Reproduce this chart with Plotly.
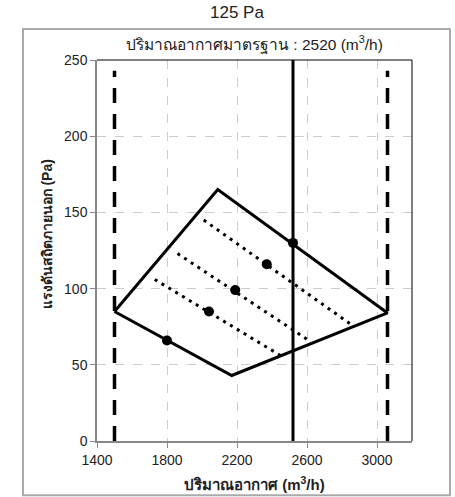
import plotly.graph_objects as go

# Operating envelope (airflow m3/h, external static pressure Pa)
envelope_x = [1500, 2090, 3060, 2170, 1500]
envelope_y = [85, 165, 84, 43, 85]

# Operating points
point_x = [1800, 2040, 2190, 2370, 2520]
point_y = [66, 85, 99, 116, 130]

# Dotted fan curves: (x start, x end), (y start, y end)
curve_x = [[1730, 2450], [1860, 2610], [2010, 2845]]
curve_y = [[106, 56], [123, 66], [145, 77]]

# Airflow limits and rated airflow
limit_x = [1500, 3060]
rated_x = 2520

x_ticks = [1400, 1800, 2200, 2600, 3000]
y_ticks = [0, 50, 100, 150, 200, 250]

FONT = "Liberation Sans, Arial, Noto Sans, sans-serif"

fig = go.Figure()

for lx in limit_x:
    fig.add_trace(go.Scatter(x=[lx, lx], y=[0, 243], mode="lines",
                             line=dict(color="black", width=3.5, dash="15px,11px"),
                             hoverinfo="skip", showlegend=False))

fig.add_trace(go.Scatter(x=[rated_x, rated_x], y=[0, 250], mode="lines",
                         line=dict(color="black", width=3),
                         hoverinfo="skip", showlegend=False))

for cx, cy in zip(curve_x, curve_y):
    fig.add_trace(go.Scatter(x=cx, y=cy, mode="lines",
                             line=dict(color="black", width=3, dash="3px,5px"),
                             hoverinfo="skip", showlegend=False))

fig.add_trace(go.Scatter(x=envelope_x, y=envelope_y, mode="lines",
                         line=dict(color="black", width=3),
                         hoverinfo="skip", showlegend=False))

fig.add_trace(go.Scatter(x=point_x, y=point_y, mode="markers",
                         marker=dict(color="black", size=10),
                         hoverinfo="skip", showlegend=False))

fig.update_xaxes(range=[1400, 3200], tickvals=x_ticks, showgrid=True,
                 gridcolor="#cccccc", griddash="dash", gridwidth=1,
                 zeroline=False, showline=True, linecolor="#888888", linewidth=1.5,
                 ticks="outside", ticklen=5, tickcolor="#888888",
                 tickfont=dict(family=FONT, size=14, color="#222222"))
fig.update_yaxes(range=[0, 250], tickvals=y_ticks, showgrid=True,
                 gridcolor="#cccccc", griddash="dash", gridwidth=1,
                 zeroline=False, showline=True, linecolor="#888888", linewidth=1.5,
                 ticks="outside", ticklen=5, tickcolor="#888888",
                 tickfont=dict(family=FONT, size=14, color="#222222"))

shapes = [
    # outer frame
    dict(type="rect", xref="paper", yref="paper",
         x0=(23 - 97) / 315, x1=(450 - 97) / 315,
         y0=(441 - 495) / 380, y1=(441 - 30) / 380,
         line=dict(color="#aaaaaa", width=2), fillcolor="rgba(0,0,0,0)", layer="below"),
    # top and right border of the plot area
    dict(type="line", xref="paper", yref="paper", x0=0, x1=1, y0=1, y1=1,
         line=dict(color="black", width=1)),
    dict(type="line", xref="paper", yref="paper", x0=1, x1=1, y0=0, y1=1,
         line=dict(color="black", width=1)),
]

annotations = [
    dict(text="125 Pa", xref="paper", yref="paper", x=(237 - 97) / 315,
         y=(441 - 14) / 380, showarrow=False, xanchor="center", yanchor="middle",
         font=dict(family=FONT, size=17, color="#222222")),
    dict(text="ปริมาณอากาศมาตรฐาน : 2520 (m<sup>3</sup>/h)", xref="paper", yref="paper",
         x=0.5, y=(441 - 45) / 380, showarrow=False, xanchor="center", yanchor="middle",
         font=dict(family=FONT, size=15.5, color="#222222")),
    dict(text="<b>ปริมาณอากาศ (m<sup>3</sup>/h)</b>", xref="paper", yref="paper",
         x=0.5, y=(441 - 483) / 380, showarrow=False, xanchor="center", yanchor="middle",
         font=dict(family=FONT, size=15, color="#222222")),
    dict(text="<b>แรงดันสถิตภายนอก (Pa)</b>", xref="paper", yref="paper",
         x=(47 - 97) / 315, y=(441 - 235) / 380, textangle=-90, showarrow=False,
         xanchor="center", yanchor="middle",
         font=dict(family=FONT, size=14, color="#222222")),
]

fig.update_layout(width=455, height=497,
                  margin=dict(l=97, r=43, t=60, b=56),
                  paper_bgcolor="white", plot_bgcolor="white",
                  shapes=shapes, annotations=annotations, showlegend=False)

fig.write_html("out.html")
